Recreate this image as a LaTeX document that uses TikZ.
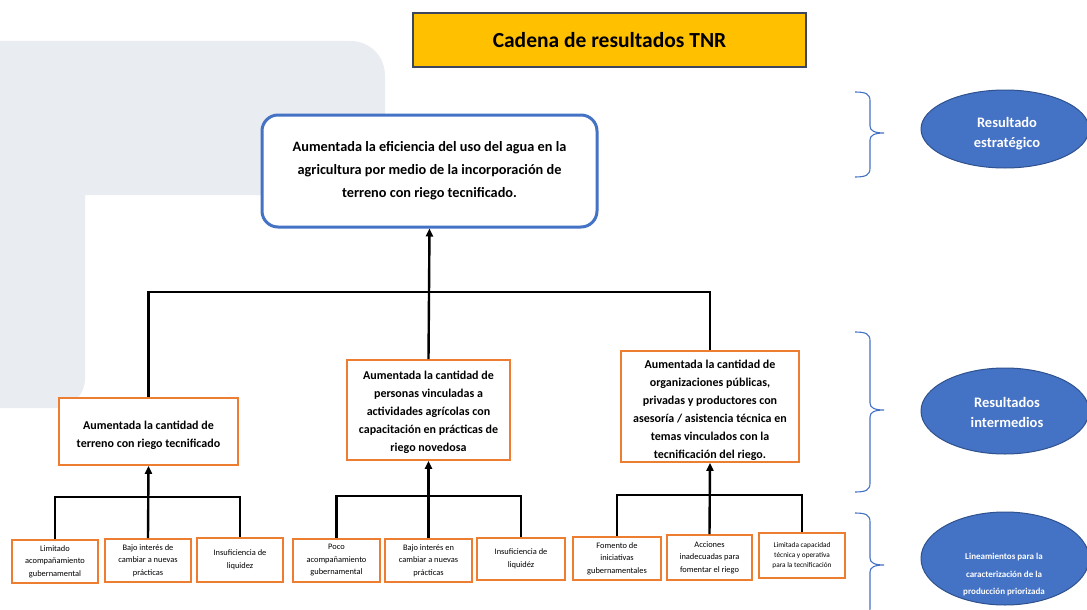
\documentclass[tikz,border=0pt]{standalone}
\usepackage{fontspec}
\setmainfont{Carlito}
\usetikzlibrary{arrows.meta,shapes.geometric}
\definecolor{bgray}{RGB}{233,236,241}
\definecolor{ublue}{RGB}{68,114,196}
\definecolor{uorange}{RGB}{237,125,49}
\definecolor{ugold}{RGB}{255,192,0}
\definecolor{edgeblue}{RGB}{47,82,143}
\definecolor{titleedge}{RGB}{60,70,95}
\newcommand{\toplift}{\rule{0pt}{17pt}}
\begin{document}
\begin{tikzpicture}[x=1pt,y=-1pt,
  conn/.style={line width=2.4pt, black},
  arr/.style={conn, -{Triangle[length=8pt,width=7pt]}},
  midbox/.style={draw=uorange, line width=1.6pt, fill=white, align=center, font=\fontsize{12}{18}\selectfont\bfseries, inner sep=0pt},
  lowbox/.style={draw=uorange, line width=1.6pt, fill=white, align=center, font=\fontsize{8.4}{12.5}\selectfont, inner sep=0pt},
  bracestyle/.style={draw=ublue, line width=1.1pt},
  levelell/.style={ellipse, draw=edgeblue, line width=1pt, fill=ublue, inner sep=0pt, minimum width=168pt},
  leveltext/.style={text=white, align=center, inner sep=0pt, font=\fontsize{14.5}{20}\selectfont\bfseries}
]
\useasboundingbox (0,0) rectangle (1087,610);
\clip (0,0) rectangle (1087,610);
\fill[white] (0,0) rectangle (1087,610);

% background shape
\fill[bgray] (0,41) -- (350,41) .. controls (370,41) and (385,56) .. (385,76) -- (385,195) -- (85,195) -- (85,378) .. controls (85,395) and (72,408) .. (55,408) -- (0,408) -- cycle;

% title
\node[draw=titleedge, line width=1.2pt, fill=ugold, minimum width=393pt, minimum height=54pt, inner sep=0pt, font=\fontsize{21.5}{24}\selectfont\bfseries] (title) at (609.5,40) {Cadena de resultados TNR};

% strategic result
\node[draw=ublue, line width=3pt, rounded corners=16pt, fill=white, minimum width=335pt, minimum height=112pt, align=center, inner sep=0pt, font=\fontsize{14.3}{23}\selectfont\bfseries] (main) at (429.5,171) {Aumentada la eficiencia del uso del agua en la\\agricultura por medio de la incorporación de\\terreno con riego tecnificado.};

% intermediate results
\node[midbox, minimum width=179pt, minimum height=67pt] (m1) at (148.5,431.5) {\toplift Aumentada la cantidad de\\terreno con riego tecnificado};
\node[midbox, minimum width=163pt, minimum height=100pt] (m2) at (428.5,410) {\rule{0pt}{14pt}Aumentada la cantidad de\\personas vinculadas a\\actividades agrícolas con\\capacitación en prácticas de\\riego novedosa};
\node[midbox, minimum width=178pt, minimum height=111pt] (m3) at (710,406.5) {\toplift Aumentada la cantidad de\\organizaciones públicas,\\privadas y productores con\\asesoría / asistencia técnica en\\temas vinculados con la\\tecnificación del riego.};

% guidelines
\node[lowbox, minimum width=86pt, minimum height=43pt] (b1) at (55,561.5) {Limitado\\acompañamiento\\gubernamental};
\node[lowbox, minimum width=86pt, minimum height=43pt] (b2) at (148,560.5) {Bajo interés de\\cambiar a nuevas\\prácticas};
\node[lowbox, minimum width=86pt, minimum height=44pt] (b3) at (240,560) {Insuficiencia de\\liquidez};
\node[lowbox, minimum width=87pt, minimum height=43pt] (b4) at (336.5,560.5) {Poco\\acompañamiento\\gubernamental};
\node[lowbox, minimum width=87pt, minimum height=43pt] (b5) at (428.5,560.5) {Bajo interés en\\cambiar a nuevas\\prácticas};
\node[lowbox, minimum width=88pt, minimum height=42pt] (b6) at (521,559) {Insuficiencia de\\liquidéz};
\node[lowbox, minimum width=88pt, minimum height=43pt] (b7) at (617,558.5) {Fomento de\\iniciativas\\gubernamentales};
\node[lowbox, minimum width=85pt, minimum height=45pt] (b8) at (709.5,557.5) {Acciones\\inadecuadas para\\fomentar el riego};
\node[lowbox, minimum width=86pt, minimum height=45pt, font=\fontsize{7.3}{10}\selectfont] (b9) at (802,555.5) {Limitada capacidad\\técnica y operativa\\para la tecnificación};

% connectors top level
\coordinate (j0) at (430,292);
\draw[conn] (m1.north) |- (m3.north |- j0) -- (m3.north);
\draw[arr] (m2.north) -- (main.south);

% connectors lower level
\coordinate (j1) at (148,497);
\coordinate (j2) at (429,496);
\coordinate (j3) at (710,495);
\draw[conn] (b1.north) |- (b3.north |- j1) -- (b3.north);
\draw[arr] (b2.north) -- (m1.south);
\draw[conn] (b4.north) |- (b6.north |- j2) -- (b6.north);
\draw[arr] (b5.north) -- (m2.south);
\draw[conn] (b7.north) |- (b9.north |- j3) -- (b9.north);
\draw[arr] (b8.north) -- (m3.south);

% braces
\draw[bracestyle] (855,92) .. controls (866,92) and (870,94) .. (870,101) -- (870,126) .. controls (870,131) and (875,133) .. (884,133) .. controls (875,133) and (870,135) .. (870,140) -- (870,168) .. controls (870,175) and (866,177) .. (855,177);
\draw[bracestyle] (855,332) .. controls (866,332) and (870,334) .. (870,341) -- (870,403) .. controls (870,408) and (875,410) .. (884,410) .. controls (875,410) and (870,412) .. (870,417) -- (870,483) .. controls (870,490) and (866,492) .. (855,492);
\draw[bracestyle] (855,513) .. controls (866,513) and (870,515) .. (870,522) -- (870,558) .. controls (870,563) and (875,565) .. (884,565) .. controls (875,565) and (870,567) .. (870,572) -- (870,608) .. controls (870,615) and (866,617) .. (855,617);

% level labels
\node[levelell, minimum height=78pt] (e1) at (1005,129) {};
\node[leveltext] (e1t) at (1007,134) {Resultado\\estratégico};
\node[levelell, minimum height=86pt] (e2) at (1005,411) {};
\node[leveltext] (e2t) at (1007,412) {Resultados\\intermedios};
\node[levelell, minimum height=93pt] (e3) at (1005,558.5) {};
\node[leveltext, font=\fontsize{9}{17.5}\selectfont\bfseries] (e3t) at (1004,575) {Lineamientos para la\\caracterización de la\\producción priorizada};
\end{tikzpicture}
\end{document}
